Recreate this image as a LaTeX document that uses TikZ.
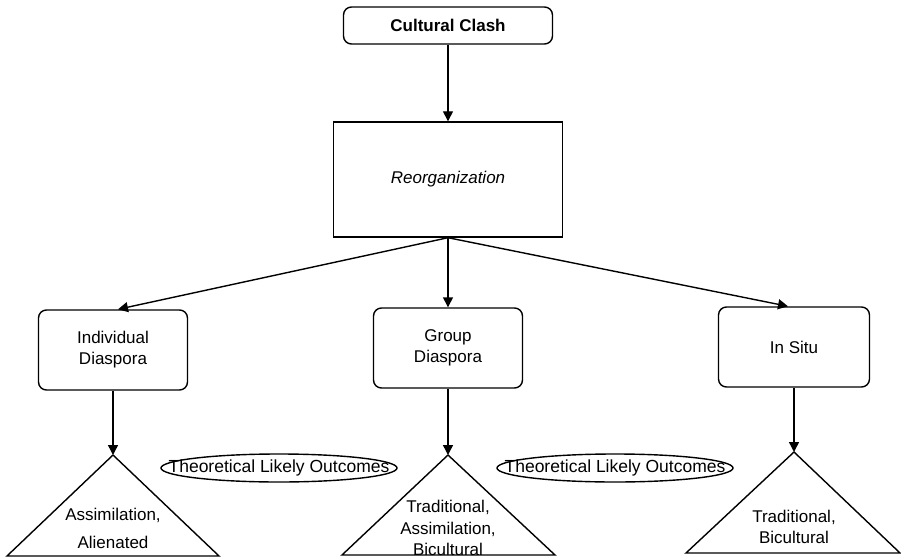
\documentclass[tikz,border=0pt]{standalone}
\usepackage{fontspec}
\setmainfont{Liberation Sans}
\usetikzlibrary{arrows.meta}

\begin{document}
\begin{tikzpicture}[x=1pt,y=-1pt,line width=1.4pt,
  box/.style={draw, rounded corners=8pt, align=center, minimum width=149pt, minimum height=80pt,
    font=\fontsize{17}{21}\selectfont},
  arr/.style={-{Triangle[length=10pt,width=10pt]}},
  txt/.style={align=center, inner sep=0pt, font=\fontsize{17}{21.5}\selectfont}]

  \useasboundingbox (0,0) rectangle (901,559);

  \node[box, minimum width=209pt, minimum height=37pt,
    font=\fontsize{17}{21}\selectfont\bfseries] (clash) at (448,25.5) {Cultural Clash};
  \node[draw, minimum width=229pt, minimum height=115pt,
    font=\fontsize{17}{21}\selectfont\itshape] (reorg) at (448,179.5) {Reorganization};

  \node[box] (indiv) at (113,350) {Individual\\Diaspora};
  \node[box] (group) at (448,348) {Group\\Diaspora};
  \node[box, minimum width=151pt] (situ) at (794,347) {In Situ};

  \draw[arr] (clash) -- (reorg);
  \draw[arr] (reorg.south) -- ([xshift=5pt]indiv.north);
  \draw[arr] (reorg.south) -- (group.north);
  \draw[arr] (reorg.south) -- ([xshift=-6pt]situ.north);

  % outcome triangles
  \coordinate (apexA) at (113,455);
  \coordinate (apexB) at (448,455);
  \coordinate (apexC) at (794,452);
  \draw (apexA) -- (7,556) -- (219,556) -- cycle;
  \draw (apexB) -- (342,555) -- (555,555) -- cycle;
  \draw (apexC) -- (686,553) -- (900,553) -- cycle;

  \draw[arr] (indiv.south) -- (apexA);
  \draw[arr] (group.south) -- (apexB);
  \draw[arr] (situ.south) -- (apexC);

  \node[txt, font=\fontsize{17}{28}\selectfont] (outA) at (113,528) {Assimilation,\\Alienated};
  \node[txt] (outB) at (448,528) {Traditional,\\Assimilation,\\Bicultural};
  \node[txt] (outC) at (794,527) {Traditional,\\Bicultural};

  \node[txt, font=\fontsize{17.5}{21}\selectfont] (likelyA) at (279,468) {Theoretical Likely Outcomes};
  \node[txt, font=\fontsize{17.5}{21}\selectfont] (likelyB) at (615,468) {Theoretical Likely Outcomes};
  \draw (likelyA.center) ellipse [x radius=118pt, y radius=14pt];
  \draw (likelyB.center) ellipse [x radius=118pt, y radius=14pt];

\end{tikzpicture}
\end{document}
